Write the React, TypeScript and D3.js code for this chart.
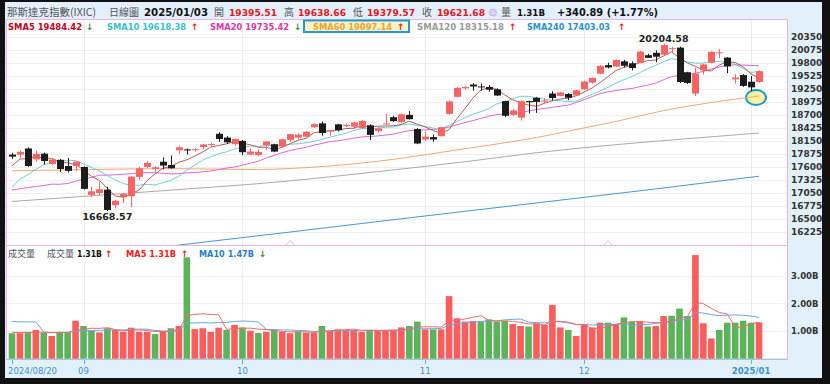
import React from "react";
import * as d3 from "d3";

// ---------- data ----------
const preCloses = [17997.35, 17342.41, 17181.72, 17357.88, 17370.2, 17147.42, 17599.4, 17194.15, 16776.16, 16200.08, 16366.85, 16195.81, 16660.02, 16745.3, 16780.61, 17187.61, 17192.6, 17594.5, 17631.72, 17876.77];

const opens = [
  17860, 17860, 17990, 17760, 17880, 17660, 17750, 17620, 17620,
  17600, 17010, 17050, 17120, 16790, 16960, 16980, 17390, 17600, 17560, 17710, 17640, 17950, 17970, 17960, 18020, 18060, 18300, 18220, 18080,
  18150, 17860, 17850, 18060, 18080, 18030, 18170, 18220, 18240, 18440, 18520, 18350, 18500, 18460, 18450, 18420, 18480, 18360, 18500, 18650, 18550, 18700, 18400,
  18180, 18230, 18250, 18720, 19080, 19260, 19340, 19300, 19290, 19240, 18990, 18700, 18640, 18990, 19060, 18980, 19150, 19100, 19140, 19110,
  19240, 19380, 19570, 19750, 19720, 19830, 19790, 19800, 19960, 20010, 19970, 20090, 20120, 19600, 19150, 19640, 19800, 20000, 19910, 19450, 19540,
  19400, 19395.51,
];
const highs = [
  17900, 17950, 18010, 17940, 17900, 17780, 17770, 17790, 17720,
  17610, 17180, 17290, 17180, 16900, 17040, 17400, 17600, 17720, 17620, 17800, 17840, 18050, 17990, 18000, 18090, 18110, 18330, 18250, 18200,
  18170, 17990, 17970, 18140, 18090, 18190, 18300, 18310, 18360, 18520, 18560, 18380, 18510, 18520, 18560, 18590, 18500, 18440, 18720, 18680, 18730, 18780, 18420,
  18350, 18280, 18450, 19000, 19290, 19310, 19370, 19360, 19330, 19260, 19000, 18820, 19000, 19000, 19080, 19060, 19200, 19190, 19160, 19230,
  19420, 19490, 19750, 19800, 19870, 19860, 19830, 20050, 19990, 20060, 20204.58, 20140, 20140, 19610, 19700, 19780, 20040, 20090, 19920, 19560, 19560,
  19520, 19638.66,
];
const lows = [
  17770, 17790, 17600, 17710, 17650, 17640, 17490, 17480, 17510,
  17120, 16960, 17000, 16668.57, 16720, 16840, 16750, 17320, 17580, 17500, 17550, 17560, 17880, 17860, 17920, 17980, 18030, 18130, 18090, 18050,
  17850, 17850, 17820, 17960, 17910, 18000, 18130, 18180, 18230, 18420, 18260, 18260, 18350, 18440, 18400, 18400, 18170, 18330, 18490, 18550, 18530, 18600, 18080,
  18150, 18130, 18240, 18700, 19070, 19230, 19210, 19210, 19190, 19100, 18650, 18680, 18580, 18730, 18740, 18950, 19000, 19090, 19010, 19100,
  19230, 19360, 19560, 19680, 19710, 19700, 19640, 19790, 19900, 19810, 19960, 20000, 19370, 19350, 19100, 19550, 19790, 19900, 19580, 19360, 19290,
  19200, 19379.57,
];
const closes = [
  17816.94, 17918.99, 17619.35, 17877.79, 17725.77, 17754.82, 17556.03, 17516.43, 17713.62,
  17136.3, 17084.3, 17127.66, 16690.83, 16884.6, 17025.88, 17395.53, 17569.68, 17683.98, 17592.13, 17628.06, 17573.3, 18013.98, 17948.32, 17974.27, 18074.52, 18082.21, 18190.29, 18119.59, 18189.17,
  17910.36, 17925.12, 17918.48, 18137.85, 17923.9, 18182.92, 18291.62, 18282.05, 18342.94, 18502.69, 18315.59, 18367.08, 18373.61, 18489.55, 18540.01, 18573.13, 18276.65, 18415.49, 18518.61, 18567.19, 18712.75, 18607.93, 18095.15,
  18239.92, 18179.98, 18439.17, 18983.47, 19269.46, 19286.78, 19298.76, 19281.4, 19230.74, 19107.65, 18680.12, 18791.81, 18987.47, 18966.14, 18972.42, 19003.65, 19054.84, 19174.3, 19060.48, 19218.17,
  19403.95, 19480.91, 19735.12, 19700.26, 19859.77, 19736.69, 19687.24, 20034.89, 19902.84, 19926.72, 20173.89, 20109.06, 19392.69, 19372.77, 19572.6, 19764.89, 20031.13, 20020.36, 19722.03, 19486.79, 19310.79,
  19280.79, 19621.68,
];
const preVolumes = [1.05, 1.0, 1.0, 4.6, 1.0, 0.95, 1.0, 0.95, 0.95];
const volumes = [
  0.92, 0.92, 0.97, 1.04, 0.94, 0.82, 0.97, 0.97, 1.37, 1.18, 1.0, 0.95, 1.1, 1.04, 0.97, 1.12, 0.97, 0.97, 0.89, 0.97,
  1.1, 1.18, 3.66, 1.07, 1.1, 0.97, 1.12, 1.04, 1.22, 1.13, 1.01, 0.93, 0.97, 1.04, 0.97, 0.92, 0.97, 0.94, 0.94, 1.18,
  1.01, 1.06, 1.04, 1.04, 0.97, 1.04, 1.0, 1.01, 1.04, 1.13, 1.18, 1.34,
  1.06, 1.06, 1.06, 2.26, 1.46, 1.34, 1.36, 1.34, 1.42, 1.34, 1.37, 1.25, 1.18, 1.16, 1.28, 1.22, 1.94, 1.13, 1.04, 0.82,
  1.25, 1.13, 1.3, 1.3, 1.25, 1.49, 1.34, 1.34, 1.16, 1.18, 1.54, 1.55, 1.81, 1.54, 3.74, 1.28, 0.73, 1.04, 1.3, 1.3,
  1.37, 1.3, 1.31,
];
// long moving averages: [candle index, value]
const sma60Pts: [number, number][] = [[0, 17520], [10, 17545], [20, 17565], [30, 17545], [40, 17620], [48, 17760], [56, 17960], [62, 18110], [66, 18220], [71, 18390], [76, 18560], [82, 18790], [88, 18960], [94, 19097.14]];
const sma120Pts: [number, number][] = [[0, 16870], [10, 16990], [20, 17110], [34, 17290], [46, 17500], [58, 17730], [66, 17900], [76, 18070], [86, 18210], [94, 18315.18]];
const sma240Pts: [number, number][] = [[0, 15540], [21, 15950], [34, 16205], [50, 16525], [64, 16800], [80, 17115], [94, 17403.03]];

const xTickIdx = [0, 9, 29, 52, 72, 93];
const xTickLabels = ["2024/08/20", "09", "10", "11", "12", "2025/01"];
const priceTicks = [16225, 16500, 16775, 17050, 17325, 17600, 17875, 18150, 18425, 18700, 18975, 19250, 19525, 19800, 20075, 20350];
const volTicks = [1, 2, 3];
const markIdx = [35, 75];

const LAT = "'DejaVu Sans', Verdana, sans-serif";
const CJK = "'Noto Sans CJK TC', 'Noto Sans CJK SC', sans-serif";
const RED = "#f86464";
const BLK = "#1c1c1c";

function sma(all: number[], offset: number, n: number, count: number) {
  const out: number[] = [];
  for (let i = 0; i < count; i++) {
    const s = all.slice(i + offset - n + 1, i + offset + 1);
    out.push(d3.mean(s) as number);
  }
  return out;
}

export default function App() {
  const x = d3.scaleLinear().domain([0, 94]).range([12, 759]);
  const y = d3.scaleLinear().domain([15951, 20703]).range([245, 20]);
  const yv = d3.scaleLinear().domain([0, 4]).range([358.7, 247.9]);

  const allC = preCloses.concat(closes);
  const off = preCloses.length;
  const s5 = sma(allC, off, 5, closes.length);
  const s10 = sma(allC, off, 10, closes.length);
  const s20 = sma(allC, off, 20, closes.length);
  const allV = preVolumes.concat(volumes);
  const vOff = preVolumes.length;
  const v5 = sma(allV, vOff, 5, volumes.length);
  const v10 = sma(allV, vOff, 10, volumes.length);

  const line = d3.line<number>().x((_, i) => x(i)).y((d) => y(d));
  const ptLine = d3.line<[number, number]>().x((d) => x(d[0])).y((d) => y(d[1])).curve(d3.curveMonotoneX);
  const vLine = d3.line<number>().x((_, i) => x(i)).y((d) => yv(d));

  const arrow = (px: number, up: boolean, py = 29.5) => (
    <text x={px} y={py} fontFamily={LAT} fontWeight="bold" fontSize={9} fill={up ? "#e8141e" : "#2a9a2a"}>{up ? "↑" : "↓"}</text>
  );
  const lg = (px: number, w: number, col: string, s: string, py = 29.5, fs = 9) => (
    <text x={px} y={py} fontFamily={LAT} fontWeight="bold" fontSize={fs} fill={col} textLength={w} lengthAdjust="spacingAndGlyphs">{s}</text>
  );

  return (
    <div style={{ position: "absolute", left: 0, top: 0 }}>
      <svg width={830} height={384} style={{ display: "block" }}>
        <defs>
          <clipPath id="up"><rect x={7} y={20} width={780} height={225} /></clipPath>
          <clipPath id="vol"><rect x={7} y={246} width={780} height={113} /></clipPath>
        </defs>
        {/* frame */}
        <rect x={0} y={0} width={830} height={384} fill="#111" />
        <rect x={5} y={2} width={817} height={376} fill="#e2f0fb" />
        {/* panels */}
        <rect x={6.5} y={19.5} width={781} height={226} fill="#fff" stroke="#e7b4e7" />
        <rect x={6.5} y={245.5} width={781} height={113.5} fill="#fff" stroke="#e7b4e7" />
        <line x1={6.5} x2={787.5} y1={359.5} y2={359.5} stroke="#9cc9e6" />

        {/* grid */}
        <g clipPath="url(#up)">
          {priceTicks.map((t) => (
            <line key={t} x1={7} x2={787} y1={Math.round(y(t)) + 0.5} y2={Math.round(y(t)) + 0.5} stroke="#efefef" />
          ))}
          {xTickIdx.slice(1).map((i) => (
            <line key={i} x1={Math.round(x(i)) + 0.5} x2={Math.round(x(i)) + 0.5} y1={20} y2={245} stroke="#ececec" />
          ))}
        </g>
        <g clipPath="url(#vol)">
          {volTicks.map((t) => (
            <line key={t} x1={7} x2={787} y1={Math.round(yv(t)) + 0.5} y2={Math.round(yv(t)) + 0.5} stroke="#f0f0f0" />
          ))}
          {xTickIdx.slice(1).map((i) => (
            <line key={i} x1={Math.round(x(i)) + 0.5} x2={Math.round(x(i)) + 0.5} y1={246} y2={359} stroke="#ececec" />
          ))}
        </g>

        {/* small markers on the bottom of the price panel */}
        {markIdx.map((i) => (
          <path key={i} d={`M${x(i) - 4},245 L${x(i)},240.5 L${x(i) + 4},245`} fill="none" stroke="#f0b8d8" />
        ))}

        {/* highlight circle */}
        <ellipse cx={756} cy={97.5} rx={10} ry={7.5} fill="#fdf2a2" stroke="#1a9bd5" strokeWidth={2} />

        {/* moving averages */}
        <g clipPath="url(#up)" fill="none" strokeWidth={1}>
          <path d={ptLine(sma240Pts) || ""} stroke="#3f9ad8" />
          <path d={ptLine(sma120Pts) || ""} stroke="#ababab" />
          <path d={ptLine(sma60Pts) || ""} stroke="#f3a774" />
          <path d={line(s20) || ""} stroke="#e266cf" />
          <path d={line(s10) || ""} stroke="#6fd0d4" />
          <path d={line(s5) || ""} stroke="#b0605e" />
        </g>

        {/* candles */}
        <g clipPath="url(#up)">
          {closes.map((c, i) => {
            const o = opens[i];
            const col = c >= o ? RED : BLK;
            const cx = Math.round(x(i)) + 0.5;
            const top = y(Math.max(o, c));
            const bot = y(Math.min(o, c));
            return (
              <g key={i}>
                <line x1={cx} x2={cx} y1={y(highs[i])} y2={y(lows[i])} stroke={col} />
                <rect x={cx - 3.5} y={top} width={7} height={Math.max(1, bot - top)} fill={col} />
              </g>
            );
          })}
        </g>

        {/* extreme labels */}
        <text x={x(82)} y={42} textAnchor="middle" fontFamily={LAT} fontWeight="bold" fontSize={9.5} fill="#222">20204.58</text>
        <text x={x(12)} y={220} textAnchor="middle" fontFamily={LAT} fontWeight="bold" fontSize={9.5} fill="#222">16668.57</text>

        {/* volume bars */}
        <g clipPath="url(#vol)">
          {volumes.map((v, i) => {
            const prev = i === 0 ? preCloses[preCloses.length - 1] : closes[i - 1];
            const col = closes[i] >= prev ? "#fb5d5d" : "#5cb35c";
            return <rect key={i} x={x(i) - 3.3} y={yv(v)} width={6.6} height={yv(0) - yv(v)} fill={col} />;
          })}
          <path d={vLine(v10) || ""} fill="none" stroke="#6aa6e6" strokeWidth={1} />
          <path d={vLine(v5) || ""} fill="none" stroke="#f26a6a" strokeWidth={1} />
        </g>

        {/* y axis labels */}
        {priceTicks.map((t) => (
          <text key={t} x={791} y={y(t) + 3.3} fontFamily={LAT} fontWeight="bold" fontSize={9} fill="#333">{t}</text>
        ))}
        {volTicks.map((t) => (
          <text key={t} x={791} y={yv(t) + 3.3} fontFamily={LAT} fontWeight="bold" fontSize={8.5} fill="#333">{t.toFixed(2) + "B"}</text>
        ))}

        {/* x axis */}
        {xTickIdx.map((i, k) => (
          <g key={i}>
            <line x1={Math.round(x(i)) + 0.5} x2={Math.round(x(i)) + 0.5} y1={360} y2={364} stroke="#6aaed8" />
            <text x={k === 0 ? 8 : x(i)} y={373.5} textAnchor={k === 0 ? "start" : "middle"} fontFamily={LAT}
              fontWeight={k === xTickIdx.length - 1 ? "bold" : "normal"} fontSize={8.5} fill="#3b93cf">{xTickLabels[k]}</text>
          </g>
        ))}

        {/* header row */}
        <text x={7} y={16} fontFamily={CJK} fontSize={10.5} fill="#555">那斯達克指數(IXIC)</text>
        <text x={109} y={16} fontFamily={CJK} fontSize={10} fill="#555">日線圖</text>
        {lg(144, 64, "#111", "2025/01/03", 16, 10)}
        <text x={214} y={16} fontFamily={CJK} fontSize={10} fill="#555">開</text>
        {lg(229, 48, "#e8141e", "19395.51", 16, 9.5)}
        <text x={284} y={16} fontFamily={CJK} fontSize={10} fill="#555">高</text>
        {lg(298, 48, "#e8141e", "19638.66", 16, 9.5)}
        <text x={353} y={16} fontFamily={CJK} fontSize={10} fill="#555">低</text>
        {lg(367, 48, "#e8141e", "19379.57", 16, 9.5)}
        <text x={422} y={16} fontFamily={CJK} fontSize={10} fill="#555">收</text>
        {lg(437, 48, "#e8141e", "19621.68", 16, 9.5)}
        <circle cx={493} cy={12.5} r={3.5} fill="#d9d2f5" stroke="#b9aee8" strokeWidth={0.8} />
        <text x={501} y={16} fontFamily={CJK} fontSize={10} fill="#555">量</text>
        {lg(517, 28, "#111", "1.31B", 16, 9.5)}
        {lg(557, 101, "#111", "+340.89 (+1.77%)", 16, 9.8)}

        {/* MA legend row */}
        <rect x={304} y={20.5} width={105} height={11.5} fill="#fff2c4" stroke="#1e9bd7" strokeWidth={2} />
        {lg(8, 74, "#c4001a", "SMA5 19484.42")}
        {arrow(86, false)}
        {lg(107, 79, "#36c3c9", "SMA10 19618.38")}
        {arrow(191, true)}
        {lg(210, 79, "#db3aa7", "SMA20 19735.42")}
        {arrow(294, false)}
        {lg(313, 79, "#f0a22e", "SMA60 19097.14")}
        {arrow(397, true)}
        {lg(417, 87, "#9a9a9a", "SMA120 18315.18")}
        {arrow(509, true)}
        {lg(527, 83, "#2b8fd3", "SMA240 17403.03")}
        {arrow(618, true)}

        {/* volume legend */}
        <text x={8} y={256.5} fontFamily={CJK} fontSize={9} fill="#555">成交量</text>
        <text x={47} y={256.5} fontFamily={CJK} fontSize={9} fill="#555">成交量</text>
        {lg(77, 25, "#111", "1.31B", 256.5, 8.5)}
        {arrow(105, true, 256.5)}
        {lg(126, 50, "#f02020", "MA5 1.31B", 256.5, 8.5)}
        {arrow(181, true, 256.5)}
        {lg(199, 55, "#2a7fc8", "MA10 1.47B", 256.5, 8.5)}
        {arrow(259, false, 256.5)}
      </svg>
    </div>
  );
}
